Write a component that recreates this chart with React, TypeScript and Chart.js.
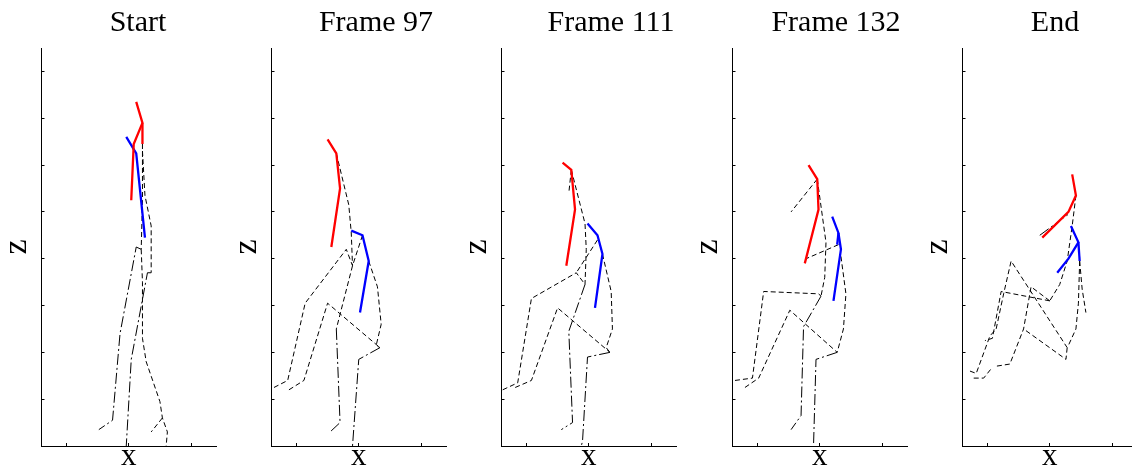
import React, { useEffect, useRef } from 'react';
import { Chart, registerables } from 'chart.js';

Chart.register(...registerables);

type Pt = [number, number];

const titles = ['Start', 'Frame 97', 'Frame 111', 'Frame 132', 'End'];
const xTicks = [-0.5, 0, 0.5];
const zTicks = [0, 0.2, 0.4, 0.6, 0.8, 1.0, 1.2, 1.4, 1.6];
const xMin = -0.7;
const xMax = 0.7;
const zMin = 0;
const zMax = 1.7;

// ---- Start ----
const startRed: Pt[][] = [
  [[0.06, 1.47], [0.11, 1.38], [0.11, 1.29]],
  [[0.11, 1.38], [0.04, 1.29], [0.02, 1.05]],
];
const startBlue: Pt[][] = [[[-0.02, 1.32], [0.06, 1.25], [0.13, 0.89]]];
const startDash: Pt[][] = [
  [[0.11, 1.29], [0.11, 1.05], [0.10, 0.84]],
  [[0.11, 1.26], [0.13, 1.07], [0.18, 0.94], [0.18, 0.74]],
  [[0.10, 0.84], [0.11, 0.70], [0.11, 0.46], [0.14, 0.36], [0.25, 0.19], [0.27, 0.12], [0.31, 0.06], [0.30, 0.0]],
  [[0.27, 0.12], [0.18, 0.06]],
];
const startLong: Pt[][] = [
  [[0.10, 0.84], [0.06, 0.85], [-0.07, 0.48], [-0.13, 0.11], [-0.24, 0.07]],
  [[0.18, 0.74], [0.15, 0.74], [0.02, 0.37], [-0.02, 0.0]],
];

// ---- Frame 97 ----
const f97Red: Pt[][] = [[[-0.25, 1.31], [-0.18, 1.25], [-0.15, 1.10], [-0.22, 0.85]]];
const f97Blue: Pt[][] = [[[-0.06, 0.92], [0.03, 0.90], [0.08, 0.79], [0.01, 0.57]]];
const f97Dash: Pt[][] = [
  [[-0.18, 1.25], [-0.08, 1.03], [-0.06, 0.91], [-0.05, 0.77]],
  [[-0.68, 0.25], [-0.57, 0.28], [-0.43, 0.61], [-0.10, 0.84], [-0.05, 0.77]],
  [[-0.56, 0.24], [-0.44, 0.28], [-0.25, 0.61], [0.17, 0.42]],
  [[0.03, 0.90], [-0.05, 0.77], [-0.18, 0.50]],
  [[0.08, 0.79], [0.15, 0.68], [0.18, 0.52], [0.14, 0.43], [0.17, 0.42]],
];
const f97Long: Pt[][] = [
  [[-0.18, 0.50], [-0.15, 0.10], [-0.23, 0.06]],
  [[0.17, 0.42], [0.0, 0.37], [-0.05, 0.0]],
];

// ---- Frame 111 ----
const f111Red: Pt[][] = [[[-0.21, 1.21], [-0.14, 1.18], [-0.11, 1.01], [-0.18, 0.77]]];
const f111Blue: Pt[][] = [[[-0.01, 0.95], [0.07, 0.90], [0.11, 0.82], [0.05, 0.59]]];
const f111Dash: Pt[][] = [
  [[-0.14, 1.18], [-0.16, 1.08]],
  [[-0.14, 1.18], [-0.03, 0.95], [-0.02, 0.84], [-0.03, 0.69]],
  [[-0.69, 0.24], [-0.57, 0.27], [-0.46, 0.63], [-0.10, 0.74], [-0.03, 0.69]],
  [[0.07, 0.88], [-0.10, 0.74]],
  [[-0.59, 0.25], [-0.46, 0.28], [-0.25, 0.59], [0.17, 0.40]],
  [[0.11, 0.82], [0.18, 0.66], [0.19, 0.50], [0.14, 0.42], [0.17, 0.40]],
];
const f111Long: Pt[][] = [
  [[-0.03, 0.69], [-0.16, 0.49], [-0.13, 0.10], [-0.22, 0.07]],
  [[0.17, 0.40], [-0.01, 0.38], [-0.05, 0.02], [-0.06, 0.0]],
];

// ---- Frame 132 ----
const f132Red: Pt[][] = [[[-0.09, 1.20], [-0.02, 1.14], [-0.01, 1.01], [-0.12, 0.78]]];
const f132Blue: Pt[][] = [
  [[0.10, 0.98], [0.15, 0.91], [0.17, 0.84], [0.11, 0.62]],
  [[0.15, 0.91], [0.14, 0.86]],
];
const f132Dash: Pt[][] = [
  [[-0.02, 1.14], [-0.23, 1.00]],
  [[-0.02, 1.14], [0.05, 0.87], [0.04, 0.72], [0.01, 0.64]],
  [[0.15, 0.86], [-0.11, 0.80]],
  [[0.17, 0.81], [0.21, 0.65], [0.19, 0.50], [0.14, 0.40]],
  [[-0.68, 0.28], [-0.54, 0.29], [-0.45, 0.66], [-0.01, 0.65], [0.01, 0.64]],
  [[-0.60, 0.25], [-0.49, 0.29], [-0.24, 0.58], [0.14, 0.40]],
];
const f132Long: Pt[][] = [
  [[0.01, 0.64], [-0.13, 0.51], [-0.15, 0.13], [-0.23, 0.07]],
  [[0.14, 0.40], [-0.03, 0.37], [-0.05, 0.0]],
];

// ---- End ----
const endRed: Pt[][] = [[[0.18, 1.16], [0.21, 1.07], [0.15, 1.0], [-0.06, 0.89]]];
const endBlue: Pt[][] = [
  [[0.17, 0.94], [0.23, 0.87], [0.15, 0.80], [0.06, 0.74]],
  [[0.23, 0.87], [0.24, 0.79]],
];
const endDash: Pt[][] = [
  [[0.21, 1.07], [0.18, 0.94], [0.14, 0.79], [0.08, 0.69], [0.0, 0.62]],
  [[0.0, 0.62], [-0.39, 0.66], [-0.46, 0.46], [-0.52, 0.45]],
  [[-0.64, 0.32], [-0.59, 0.31], [-0.48, 0.47], [-0.43, 0.50], [-0.37, 0.65], [-0.31, 0.79], [0.14, 0.42]],
  [[0.24, 0.79], [0.26, 0.67], [0.29, 0.57]],
  [[0.24, 0.79], [0.23, 0.61], [0.21, 0.50], [0.15, 0.43]],
  [[0.0, 0.62], [-0.15, 0.68], [-0.21, 0.50], [-0.32, 0.35], [-0.44, 0.34]],
  [[0.14, 0.42], [0.13, 0.37], [-0.21, 0.50]],
  [[-0.61, 0.29], [-0.53, 0.29], [-0.47, 0.33]],
];
const endLong: Pt[][] = [[[-0.08, 0.90], [0.15, 0.99]]];

const reds = [startRed, f97Red, f111Red, f132Red, endRed];
const blues = [startBlue, f97Blue, f111Blue, f132Blue, endBlue];
const dashes = [startDash, f97Dash, f111Dash, f132Dash, endDash];
const longs = [startLong, f97Long, f111Long, f132Long, endLong];

const canvasLefts = [0, 230, 460, 691, 921];
const titleCenters = [138, 146, 151, 145, 134];
const FONT = '"Liberation Serif", "Times New Roman", serif';

function Panel({ idx }: { idx: number }) {
  const ref = useRef<HTMLCanvasElement | null>(null);
  const W = Math.round(titleCenters[idx] * 2);
  useEffect(() => {
    const mk = (lines: Pt[][], color: string, width: number, dash: number[], order: number) =>
      lines.map((l) => ({
        data: l.map(([x, y]) => ({ x, y })),
        borderColor: color,
        backgroundColor: color,
        borderWidth: width,
        borderDash: dash,
        pointRadius: 0,
        showLine: true,
        fill: false,
        tension: 0,
        order,
      }));
    const chart = new Chart(ref.current as HTMLCanvasElement, {
      type: 'scatter',
      data: {
        datasets: [
          ...mk(reds[idx], '#ff0000', 2.3, [], 0),
          ...mk(blues[idx], '#0000ff', 2.3, [], 0),
          ...mk(dashes[idx], '#000000', 1, [5, 3], 1),
          ...mk(longs[idx], '#000000', 1, [11, 3, 2, 3], 1),
        ] as any,
      },
      options: {
        responsive: false,
        maintainAspectRatio: false,
        animation: false,
        events: [],
        layout: { padding: 0 },
        plugins: {
          legend: { display: false },
          tooltip: { enabled: false },
          title: {
            display: true,
            text: titles[idx],
            color: '#000',
            font: { family: FONT, size: 30, weight: 'normal', lineHeight: 1.2 },
            padding: { top: 5, bottom: 7 },
          },
        },
        scales: {
          x: {
            type: 'linear',
            position: 'bottom',
            min: xMin,
            max: xMax,
            afterBuildTicks: (s: any) => {
              s.ticks = xTicks.map((v) => ({ value: v }));
            },
            afterFit: (s: any) => {
              s.height = 25;
            },
            ticks: { display: false },
            grid: { drawOnChartArea: false, drawTicks: true, tickLength: -3, color: '#000', lineWidth: 1 },
            border: { display: true, color: '#000', width: 1 },
            title: {
              display: true,
              text: 'x',
              color: '#000',
              font: { family: FONT, size: 31, weight: 'normal', lineHeight: 0.8 },
              padding: { top: 0, bottom: 1.3 },
            },
          },
          y: {
            type: 'linear',
            position: 'left',
            min: zMin,
            max: zMax,
            afterBuildTicks: (s: any) => {
              s.ticks = zTicks.map((v) => ({ value: v }));
            },
            afterFit: (s: any) => {
              s.width = 41.5;
            },
            ticks: { display: false },
            grid: { drawOnChartArea: false, drawTicks: true, tickLength: -3, color: '#000', lineWidth: 1 },
            border: { display: true, color: '#000', width: 1 },
            title: {
              display: true,
              text: 'z',
              color: '#000',
              font: { family: FONT, size: 34, weight: 'normal', lineHeight: 0.8 },
              padding: { top: 3.5, bottom: 0 },
            },
          },
          y2: {
            type: 'linear',
            position: 'right',
            display: true,
            afterFit: (s: any) => {
              s.width = W - 216;
            },
            ticks: { display: false },
            grid: { display: false },
            border: { display: false },
          },
        },
      } as any,
    });
    return () => chart.destroy();
  }, [idx, W]);
  return (
    <canvas
      ref={ref}
      width={W}
      height={471}
      style={{ position: 'absolute', left: canvasLefts[idx], top: 0, width: W, height: 471 }}
    />
  );
}

export default function App() {
  return (
    <div
      style={{
        position: 'absolute',
        left: 0,
        top: 0,
        width: 1132,
        height: 471,
        overflow: 'hidden',
        background: '#ffffff',
      }}
    >
      {titles.map((_, i) => (
        <Panel key={i} idx={i} />
      ))}
    </div>
  );
}
